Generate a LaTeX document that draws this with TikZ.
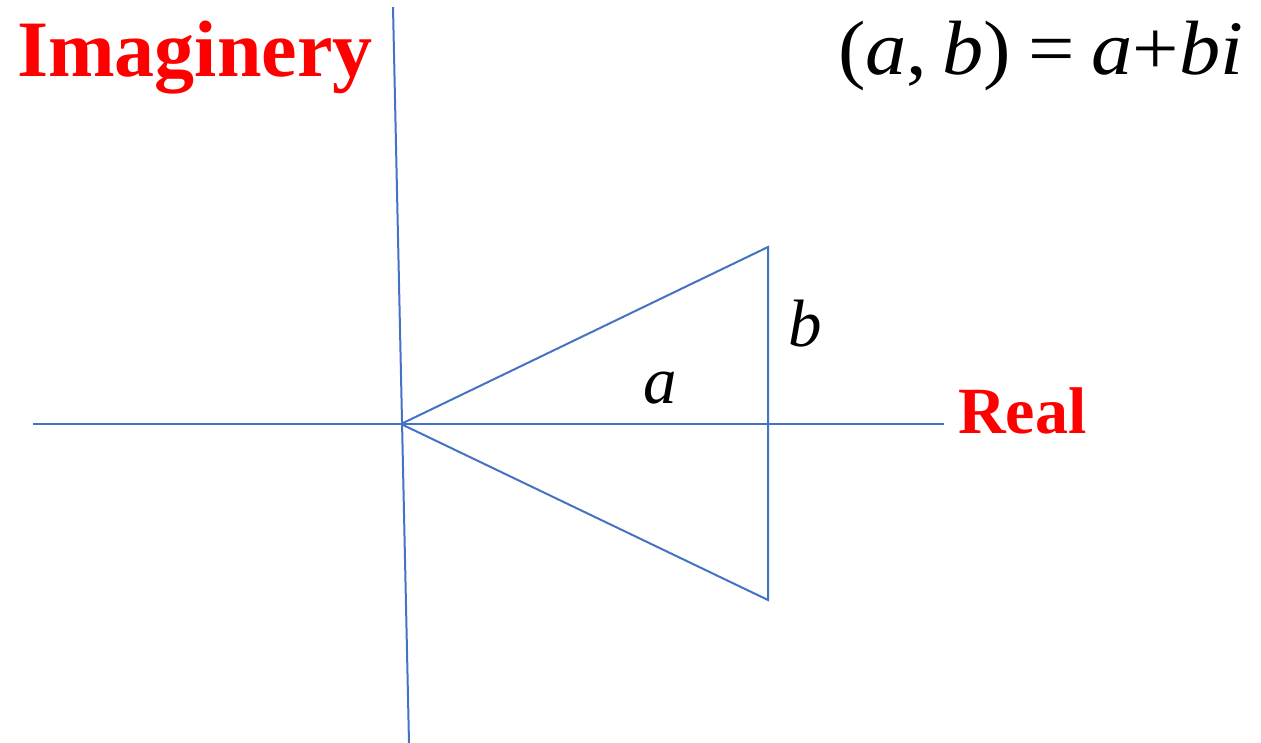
\documentclass[tikz,border=0pt]{standalone}
\usepackage{fontspec}
\usepackage{graphicx}
\setmainfont{Liberation Serif}
\definecolor{axisblue}{RGB}{68,114,196}
\definecolor{labelred}{RGB}{255,0,0}
\tikzset{
  axisline/.style={draw=axisblue, line width=2pt},
  redlabel/.style={text=labelred, font=\bfseries, inner sep=0pt, anchor=base west},
  mathlabel/.style={text=black, inner sep=0pt, anchor=base west}
}
\begin{document}
\begin{tikzpicture}[x=1pt,y=-1pt]
\useasboundingbox (0,0) rectangle (1261,743);
% axis points
\coordinate (vtop) at (393,7);
\coordinate (vbot) at (409,743);
\coordinate (hleft) at (33,424);
\coordinate (hright) at (944,424);
\coordinate (O) at (401,424);
\coordinate (P) at (768,247);
\coordinate (Q) at (768,600);
% axes
\draw[axisline] (vtop) -- (vbot);
\draw[axisline] (hleft) -- (hright);
% triangle
\draw[axisline] (O) -- (P) -- (Q) -- (O);
% labels
\node[redlabel, font=\fontsize{80}{90}\selectfont\bfseries] (imag) at (17,77) {Imaginery};
\node[redlabel, font=\fontsize{66}{76}\selectfont\bfseries] (real) at (958,433) {Real};
\node[mathlabel, font=\fontsize{77}{87}\selectfont] (eq) at (838,75) {\scalebox{1.07}[1]{(\textit{a},\hspace{14pt}\textit{b})\hspace{16pt}=\hspace{16pt}\textit{a}+\textit{bi}}};
\node[mathlabel, font=\fontsize{67}{77}\selectfont\itshape] (lb) at (788,346) {b};
\node[mathlabel, font=\fontsize{67}{77}\selectfont\itshape] (la) at (643,403) {a};
\end{tikzpicture}
\end{document}
